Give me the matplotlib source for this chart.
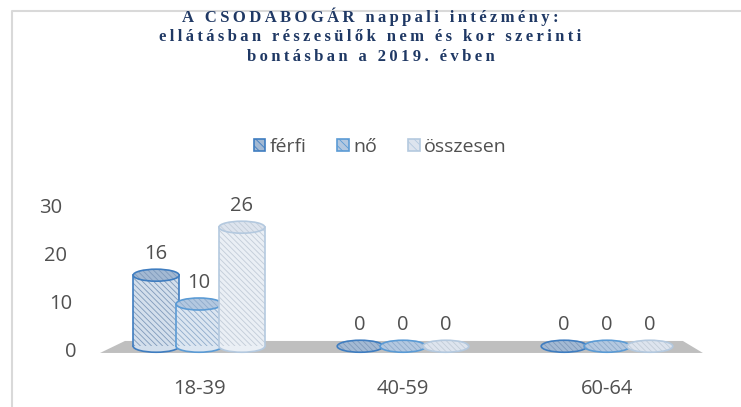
import matplotlib
matplotlib.use('Agg')

import matplotlib.pyplot as plt
from matplotlib.patches import Ellipse, Rectangle, Polygon, Patch
from matplotlib.lines import Line2D

# Chart data
categories = ["18-39", "40-59", "60-64"]
series_names = ["férfi", "nő", "összesen"]
ferfi = [16, 0, 0]
no = [10, 0, 0]
osszesen = [26, 0, 0]
y_ticks = [0, 10, 20, 30]
title_lines = ["A CSODABOGÁR nappali intézmény:",
               "ellátásban részesülők nem és kor szerinti",
               "bontásban a 2019. évben"]

edge_colors = ["#3F7DC0", "#5B9BD5", "#B4C9DF"]
face_colors = ["#D3DFEC", "#DCE6F1", "#EAEFF5"]
hatch_colors = ["#7F9ABB", "#8FABCB", "#C2CCD8"]
top_colors = ["#A3B9D3", "#B3C8E0", "#DDE4EE"]
text_gray = "#505050"
font = "Open Sans"
fsize = 14.5

W, H = 741, 407
fig = plt.figure(figsize=(W / 100, H / 100), dpi=100)

# outer chart border (top and left visible)
fig.add_artist(Line2D([12 / W, 12 / W, 1], [0, 1 - 11 / H, 1 - 11 / H],
                      color="#D9D9D9", linewidth=1.5))

# title with wide letter spacing
thin = "\u2009"
for i, line in enumerate(title_lines):
    spaced = thin.join(line)
    fig.text(0.5, 1 - (17 + i * 20) / H, spaced, ha="center", va="center",
             fontsize=12, fontweight="bold", color="#1F3864",
             family=["Liberation Serif", "DejaVu Serif"])

# axes placed in pixels
left, right, top, bottom = 80, 720, 160, 360
ax = fig.add_axes([left / W, 1 - bottom / H, (right - left) / W, (bottom - top) / H])
px_x, px_y = 204.0, 4.8
x0, y0 = 199, 352
ax.set_xlim((left - x0) / px_x, (right - x0) / px_x)
ax.set_ylim((y0 - bottom) / px_y, (y0 - top) / px_y)
for s in ax.spines.values():
    s.set_visible(False)

# floor
floor = Polygon([(-0.485, -0.2), (-0.363, 2.3), (2.372, 2.3), (2.47, -0.2)],
                closed=True, facecolor="#BFBFBF", edgecolor="none", zorder=1)
ax.add_patch(floor)

offsets = [-0.21, 0.0, 0.21]
width = 0.225
ell_h = 2.5
base = 1.2
hatch = "\\\\\\\\\\\\"
plt.rcParams['hatch.linewidth'] = 0.6
for si, vals in enumerate([ferfi, no, osszesen]):
    for ci, v in enumerate(vals):
        xc = ci + offsets[si]
        z = 3 + si
        ec = edge_colors[si]
        if v > 0:
            ax.add_patch(Ellipse((xc, base), width, ell_h, facecolor=face_colors[si],
                                 edgecolor=ec, linewidth=1.2, zorder=z - 0.5))
            ax.add_patch(Rectangle((xc - width / 2, base), width, v - base,
                                   facecolor=face_colors[si], edgecolor="none",
                                   linewidth=0, zorder=z))
            ax.add_patch(Rectangle((xc - width / 2, base), width, v - base,
                                   facecolor="none", edgecolor=hatch_colors[si],
                                   hatch=hatch, linewidth=0, zorder=z + 0.05))
            ax.plot([xc - width / 2, xc - width / 2], [base, v], color=ec,
                    linewidth=1.2, zorder=z + 0.1)
            ax.plot([xc + width / 2, xc + width / 2], [base, v], color=ec,
                    linewidth=1.2, zorder=z + 0.1)
            top_y = v
        else:
            top_y = base
        ax.add_patch(Ellipse((xc, top_y), width, ell_h, facecolor=top_colors[si],
                             edgecolor="none", zorder=z + 0.2))
        ax.add_patch(Ellipse((xc, top_y), width, ell_h, facecolor="none",
                             edgecolor=hatch_colors[si], hatch=hatch, linewidth=0,
                             zorder=z + 0.25))
        ax.add_patch(Ellipse((xc, top_y), width, ell_h, facecolor="none",
                             edgecolor=ec, linewidth=1.2, zorder=z + 0.3))
        ax.annotate(str(v), (xc, top_y), xytext=(0, 8), textcoords="offset points",
                    ha="center", va="bottom", fontsize=fsize, color=text_gray,
                    family=font, zorder=10)

# x category labels
ax.set_xticks(range(len(categories)))
ax.set_xticklabels(categories)
ax.tick_params(axis="x", length=0, labelsize=fsize, labelcolor=text_gray, pad=14)
for lab in ax.get_xticklabels():
    lab.set_family(font)

# y labels follow the slanted floor edge
ax.set_yticks([])
ytrans = ax.get_yaxis_transform()
for t in y_ticks:
    right_px = 77 - t / 30 * 15
    ax.text((right_px - left) / (right - left), t, str(t), transform=ytrans,
            ha="right", va="center", fontsize=fsize, color=text_gray, family=font)

# legend
handles = [Patch(facecolor=top_colors[i], edgecolor=edge_colors[i], hatch="\\\\\\\\",
                 linewidth=1.2) for i in range(3)]
fig.legend(handles, series_names, loc="center", bbox_to_anchor=(380 / W, 1 - 147 / H),
           ncol=3, frameon=False, handlelength=0.6, handleheight=0.6,
           handletextpad=0.2, columnspacing=1.6,
           prop={"family": font, "size": 14}, labelcolor=text_gray)

fig.savefig("out.png", dpi=100)
